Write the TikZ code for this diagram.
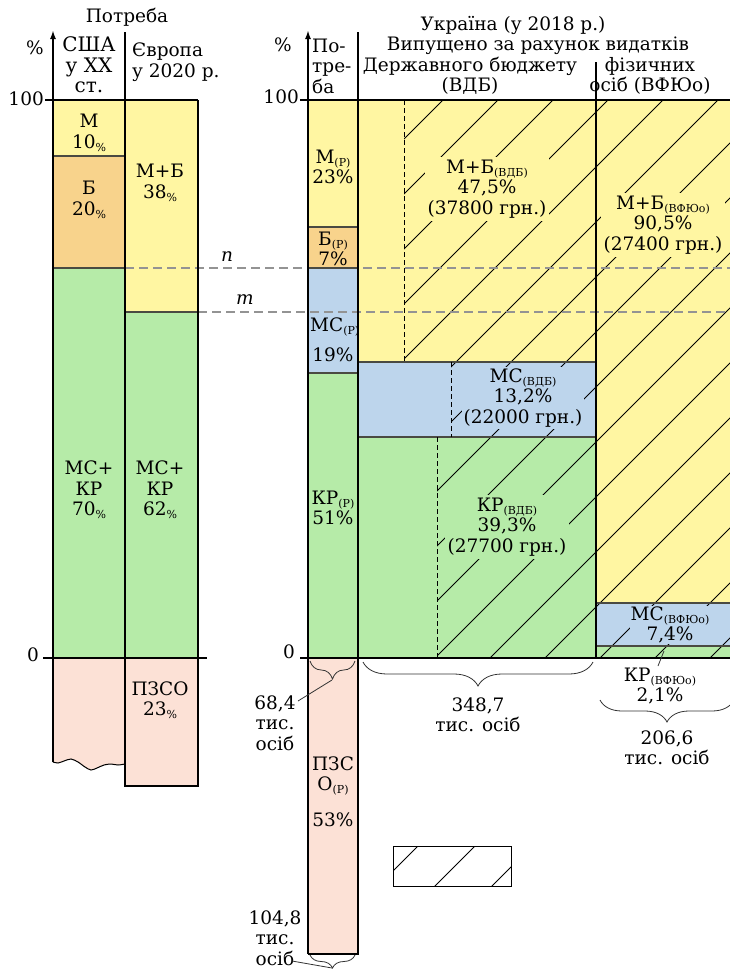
\documentclass[tikz,border=0pt]{standalone}
\usepackage{fontspec}
\setmainfont{DejaVu Serif}
\usetikzlibrary{decorations.pathreplacing,arrows.meta}
\definecolor{cy}{HTML}{FFF6A2}
\definecolor{co}{HTML}{F8D38C}
\definecolor{cg}{HTML}{B6EBA8}
\definecolor{cb}{HTML}{BDD5EC}
\definecolor{cp}{HTML}{FCE1D6}
\definecolor{csep}{HTML}{4A4A42}
\newcommand{\lsub}[1]{\raisebox{-0.3ex}{\fontsize{11}{11}\selectfont #1}}
\begin{document}
\begin{tikzpicture}[x=1pt,y=-1pt,
  txt/.style={font=\fontsize{18.5}{20.5}\selectfont, align=center, inner sep=1pt},
  border/.style={line width=1.8pt, draw=black},
  sepl/.style={line width=2.6pt, draw=csep},
  hatchl/.style={line width=0.9pt, draw=black},
  dashv/.style={line width=0.8pt, draw=black, dash pattern=on 5pt off 3pt},
  guide/.style={line width=1.2pt, draw=gray!85, dash pattern=on 9pt off 5pt},
  br/.style={decorate, decoration={brace, mirror, amplitude=#1}, line width=0.8pt, draw=black!80},
  br/.default=20,
  leader/.style={line width=0.8pt, draw=black!80},
]
\useasboundingbox (0,0) rectangle (730,969);
% ---------- left chart fills
\fill[cy] (53,100) rectangle (125,156);
\fill[co] (53,156) rectangle (125,268);
\fill[cg] (53,268) rectangle (125,658);
\fill[cp] (53,658) -- (125,658) -- plot[smooth] coordinates {(125,764) (118,765) (111,764) (104,765) (97,768) (91,770) (85,767) (78,762) (71,759) (64,761) (58,763) (53,762)} -- cycle;
\fill[cy] (125,100) rectangle (198,312);
\fill[cg] (125,312) rectangle (198,658);
\fill[cp] (125,658) rectangle (198,786);
% ---------- right chart fills
\fill[cy] (308,100) rectangle (358,227);
\fill[co] (308,227) rectangle (358,268);
\fill[cb] (308,268) rectangle (358,373);
\fill[cg] (308,373) rectangle (358,658);
\fill[cp] (308,658) rectangle (358,954);
\fill[cy] (358,100) rectangle (596,362);
\fill[cb] (358,362) rectangle (596,437);
\fill[cg] (358,437) rectangle (596,658);
\fill[cy] (596,100) rectangle (730,603);
\fill[cb] (596,603) rectangle (730,646);
\fill[cg] (596,646) rectangle (730,658);
% ---------- hatching
\begin{scope}
  \clip (404,100) rectangle (596,362) (451,362) rectangle (596,437)
        (437,437) rectangle (596,658) (596,100) rectangle (740,658);
  \foreach \k in {-1,...,17} {
    \pgfmathsetmacro\cc{543+55*\k}
    \draw[hatchl] (\cc-1000,1000) -- (\cc,0);
  }
\end{scope}
\begin{scope}
  \clip (393,846) rectangle (511,886);
  \foreach \k in {-2,...,2} {
    \pgfmathsetmacro\cc{1321+57*\k}
    \draw[hatchl] (\cc-1000,1000) -- (\cc,0);
  }
\end{scope}
\draw[line width=1pt] (393,846) rectangle (511,886);
% ---------- guide lines n, m
\draw[guide] (125,268) -- (730,268);
\draw[guide] (198,312) -- (730,312);
% ---------- separators
\draw[sepl] (53,156) -- (125,156);
\draw[sepl] (53,268) -- (125,268);
\draw[sepl] (125,312) -- (198,312);
\draw[sepl] (308,227) -- (358,227);
\draw[sepl] (308,268) -- (358,268);
\draw[sepl] (308,373) -- (358,373);
\draw[sepl] (358,362) -- (596,362);
\draw[sepl] (358,437) -- (596,437);
\draw[sepl] (596,603) -- (730,603);
\draw[sepl] (596,646) -- (730,646);
% ---------- dashed verticals
\draw[dashv] (404,100) -- (404,362);
\draw[dashv] (451,362) -- (451,437);
\draw[dashv] (437,437) -- (437,658);
% ---------- borders left
\draw[border,-{Latex[length=9pt,width=6pt]}] (53,762) -- (53,30);
\draw[border] (125,32) -- (125,786) -- (198,786) -- (198,100);
\draw[border] (45,100) -- (198,100);
\draw[border] (43,658) -- (207,658);
\draw[line width=1pt] plot[smooth] coordinates {(125,764) (118,765) (111,764) (104,765) (97,768) (91,770) (85,767) (78,762) (71,759) (64,761) (58,763) (53,762)};
% ---------- borders right
\draw[border,-{Latex[length=9pt,width=6pt]}] (308,954) -- (308,30);
\draw[border] (358,32) -- (358,954) -- (308,954);
\draw[border] (596,62) -- (596,658);
\draw[border] (300,100) -- (730,100);
\draw[border] (300,658) -- (730,658);
% ---------- left texts
\node[txt] (potreba) at (127,17) {Потреба};
\node[txt] (pctA) at (35,48) {\%};
\node[txt, font=\fontsize{20}{20.5}\selectfont] (usa) at (89,65) {США\\у ХХ\\ст.};
\node[txt, align=left, anchor=west] (eur) at (131,62) {Європа\\у 2020 р.};
\node[txt, anchor=east] (hA) at (45,99) {100};
\node[txt, anchor=east] (zA) at (40,655) {0};
\node[txt] (mA) at (89,133) {М\\10\lsub{\%}};
\node[txt] (bA) at (89,200) {Б\\20\lsub{\%}};
\node[txt] (mbE) at (160,183) {М+Б\\38\lsub{\%}};
\node[txt] (mkA) at (89,490) {МС+\\КР\\70\lsub{\%}};
\node[txt] (mkE) at (160,490) {МС+\\КР\\62\lsub{\%}};
\node[txt] (pzE) at (160,700) {ПЗСО\\23\lsub{\%}};
\node[txt, font=\fontsize{18.5}{20}\itshape] (nlab) at (227,257) {n};
\node[txt, font=\fontsize{18.5}{20}\itshape] (mlab) at (245,300) {m};
% ---------- right header
\node[txt] (ukr) at (513,25) {Україна (у 2018 р.)};
\node[txt] (vyp) at (538,46) {Випущено за рахунок видатків};
\node[txt] (vdb) at (470,76) {Державного бюджету\\(ВДБ)};
\node[txt] (vfo) at (650,76) {фізичних\\осіб (ВФЮо)};
\node[txt] (pctB) at (283,45) {\%};
\node[txt, align=left, anchor=west] (potr) at (311,66) {По-\\тре-\\ба};
\node[txt, anchor=east] (hB) at (300,97) {100};
\node[txt, anchor=east] (zB) at (296,652) {0};
% ---------- need column
\node[txt] (mR) at (333,167) {М\lsub{(Р)}\\23\%};
\node[txt, font=\fontsize{18.5}{18}\selectfont] (bR) at (333,249) {Б\lsub{(Р)}\\7\%};
\begin{scope}
  \clip (309,269) rectangle (357,372);
  \node[txt, anchor=west] (mcR) at (309,327) {МС\lsub{(Р)}};
\end{scope}
\node[txt] (mcR2) at (333,355) {19\%};
\node[txt] (krR) at (333,508) {КР\lsub{(Р)}\\51\%};
\node[txt] (pzR) at (333,776) {ПЗС\\О\lsub{(Р)}};
\node[txt] (pzR2) at (333,820) {53\%};
% ---------- VDB / VFJuO labels
\node[txt, fill=cy, inner sep=3pt] (mbV) at (487,189) {М+Б\lsub{(ВДБ)}\\47,5\%\\(37800 грн.)};
\node[txt, fill=cb, inner sep=2pt] (mcV) at (523,398) {МС\lsub{(ВДБ)}\\13,2\%\\(22000 грн.)};
\node[txt, fill=cg, inner sep=3pt] (krV) at (507,527) {КР\lsub{(ВДБ)}\\39,3\%\\(27700 грн.)};
\node[txt, fill=cy, inner sep=3pt] (mbF) at (663,225) {М+Б\lsub{(ВФЮо)}\\90,5\%\\(27400 грн.)};
\node[txt, fill=cb, inner sep=1pt, font=\fontsize{18.5}{17}\selectfont] (mcF) at (670,625) {МС\lsub{(ВФЮо)}\\7,4\%};
\node[txt] (krF) at (660,686) {КР\lsub{(ВФЮо)}\\2,1\%};
\coordinate (krFa) at (658,666);
\coordinate (krFb) at (664,651);
\draw[leader] (krFa) -- (krFb);
% ---------- braces
\coordinate (b1a) at (363,662); \coordinate (b1b) at (593,662);
\draw[br=24] (b1a) -- (b1b);
\node[txt] (n3487) at (478,715) {348,7\\тис. осіб};
\coordinate (b2a) at (600,700); \coordinate (b2b) at (734,700);
\draw[br=22] (b2a) -- (b2b);
\node[txt] (n2066) at (667,748) {206,6\\тис. осіб};
\coordinate (b3a) at (310,661); \coordinate (b3b) at (355,661);
\draw[br=18] (b3a) -- (b3b);
\node[txt] (n684) at (275,723) {68,4\\тис.\\осіб};
\coordinate (t3) at (332,680);
\coordinate (l3) at (298,701);
\draw[leader] (t3) -- (l3);
\coordinate (b4a) at (310,955); \coordinate (b4b) at (355,955);
\draw[br=13] (b4a) -- (b4b);
\node[txt] (n1048) at (275,938) {104,8\\тис.\\осіб};
\coordinate (t4) at (332,968);
\coordinate (l4) at (292,961);
\draw[leader] (t4) -- (l4);
\end{tikzpicture}
\end{document}
